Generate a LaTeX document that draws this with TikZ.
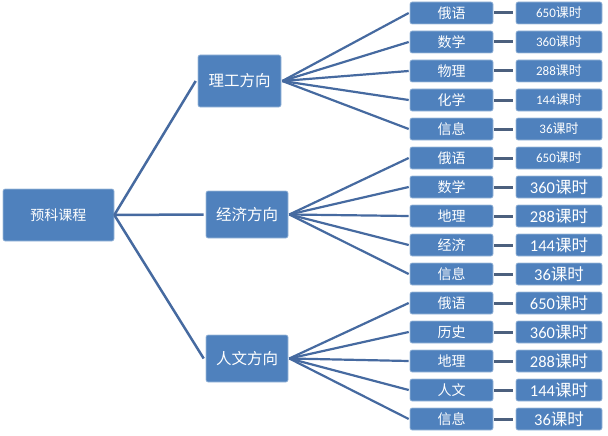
\documentclass[tikz,border=0pt]{standalone}
\usepackage{fontspec}
\newfontfamily\cjk{Noto Sans CJK SC}
\newfontfamily\num{Carlito}
\definecolor{boxblue}{RGB}{79,129,189}
\definecolor{lineblue}{RGB}{70,106,160}
\definecolor{linkgrey}{RGB}{76,96,126}
\newcommand{\hrs}[1]{{\num #1}课时}

\begin{document}
\begin{tikzpicture}[x=1pt,y=-1pt,
    box/.style={fill=boxblue,draw=boxblue!55!white,line width=0.6pt,rounded corners=2pt,
      text=white,inner sep=0pt,font=\cjk},
    trunk/.style={lineblue,line width=2.5pt},
    fan/.style={lineblue,line width=2.2pt},
    link/.style={linkgrey,line width=3pt,shorten <=1pt,shorten >=3pt}]
  \useasboundingbox (0,0) rectangle (608,436);
  % root and the three directions
  \node[box,minimum width=111pt,minimum height=52pt,font=\cjk\fontsize{14}{14}\selectfont] (root) at (58.5,215) {预科课程};
  \node[box,minimum width=83pt,minimum height=52pt,font=\cjk\fontsize{15.5}{16}\selectfont] (li) at (239.5,81) {理工方向};
  \node[box,minimum width=82pt,minimum height=47pt,font=\cjk\fontsize{15.5}{16}\selectfont] (jing) at (247,214.5) {经济方向};
  \node[box,minimum width=82pt,minimum height=47pt,font=\cjk\fontsize{15.5}{16}\selectfont] (ren) at (247,358.5) {人文方向};
  \draw[trunk] (root.east) -- ([xshift=-2pt]li.west);
  \draw[trunk] (root.east) -- ([xshift=-2pt]jing.west);
  \draw[trunk] (root.east) -- ([xshift=-2pt]ren.west);
  % subjects and hours
  \foreach \i/\t/\n/\s in {1/俄语/650/13,2/数学/360/13,3/物理/288/13,4/化学/144/13,5/信息/36/13,
      6/俄语/650/13,7/数学/360/16.5,8/地理/288/16.5,9/经济/144/16.5,10/信息/36/16.5,
      11/俄语/650/16.5,12/历史/360/16.5,13/地理/288/16.5,14/人文/144/16.5,15/信息/36/16.5}{
    \node[box,minimum width=83pt,minimum height=22pt,font=\cjk\fontsize{14}{14}\selectfont] (l\i) at (451.5,{13+29*(\i-1)}) {\t};
    \node[box,minimum width=86pt,minimum height=22pt,font=\cjk\fontsize{\s}{\s}\selectfont] (h\i) at (559,{13+29*(\i-1)}) {\hrs{\n}};
    \draw[link] (l\i) -- (h\i);
  }
  \foreach \m/\a in {li/1,jing/6,ren/11}
    \foreach \k in {0,...,4}{
      \pgfmathtruncatemacro\j{\a+\k}
      \draw[fan] ([xshift=1pt]\m.east) -- ([xshift=-1pt]l\j.west);
    }
\end{tikzpicture}
\end{document}
